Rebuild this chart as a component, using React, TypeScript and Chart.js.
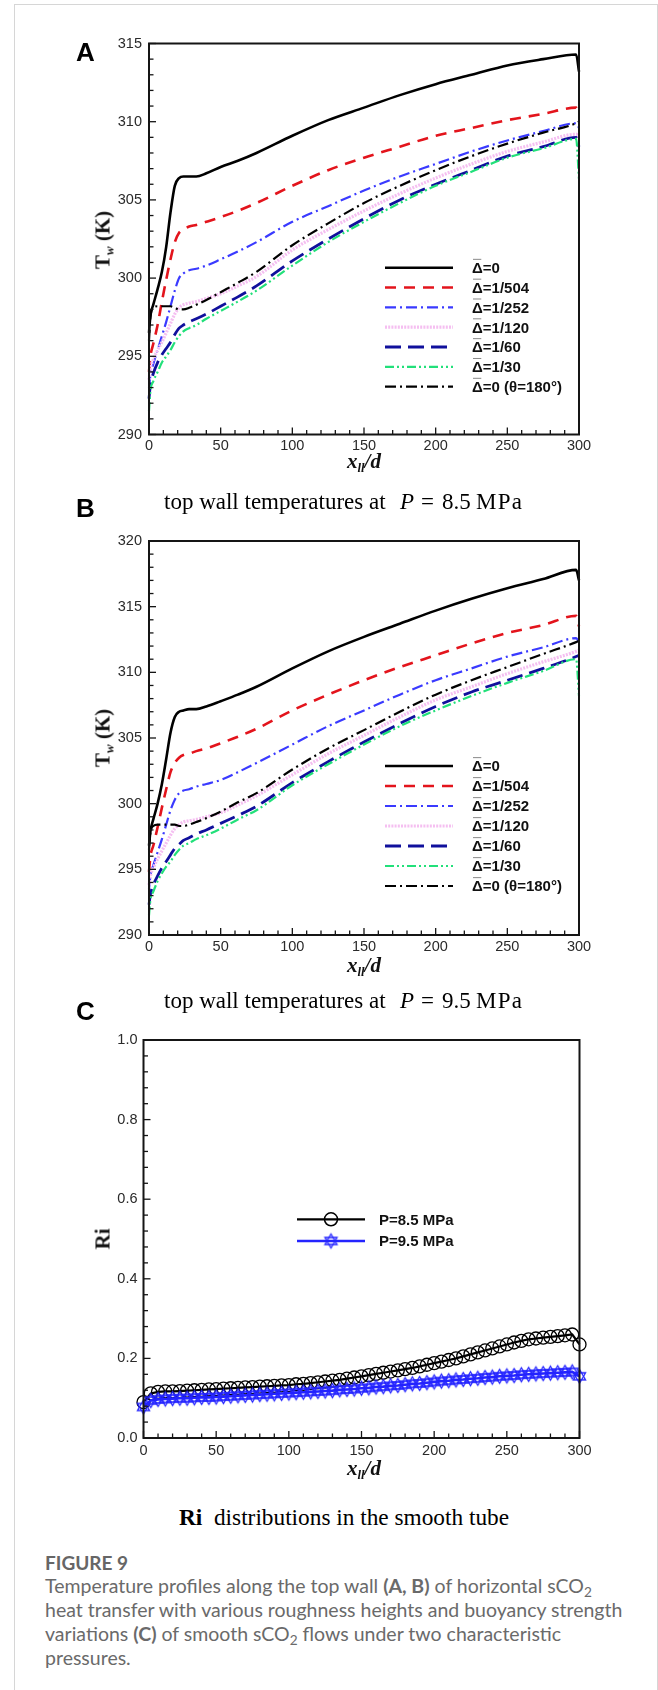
import React, { useEffect, useRef } from "react";
import { Chart, registerables } from "chart.js";
Chart.register(...registerables);

// ---------------- data ----------------
const X_POS = [0, 1, 3, 6, 9, 12, 15, 18, 21, 24, 28, 33, 40, 50, 62, 75, 100, 125, 150, 175, 200, 225, 250, 275, 298, 300];

// Panel A, P = 8.5 MPa
const A_D0 = [296.5, 297.6, 298.3, 299.3, 300.4, 302.0, 304.2, 305.9, 306.4, 306.5, 306.5, 306.5, 306.7, 307.1, 307.5, 308.0, 309.1, 310.1, 310.9, 311.7, 312.4, 313.0, 313.6, 314.0, 314.3, 313.2];
const A_504 = [294.0, 295.0, 295.8, 297.0, 298.5, 299.9, 301.2, 302.3, 302.9, 303.1, 303.3, 303.4, 303.6, 303.9, 304.3, 304.8, 305.9, 306.9, 307.7, 308.4, 309.1, 309.6, 310.1, 310.5, 310.9, 310.5];
const A_252 = [293.0, 293.8, 294.5, 295.4, 296.3, 297.2, 298.2, 299.2, 300.0, 300.3, 300.5, 300.6, 300.8, 301.2, 301.7, 302.3, 303.6, 304.6, 305.6, 306.5, 307.3, 308.1, 308.8, 309.4, 309.9, 309.6];
const A_120 = [293.5, 294.2, 294.8, 295.4, 295.9, 296.5, 297.1, 297.7, 298.1, 298.3, 298.4, 298.5, 298.7, 299.0, 299.5, 300.1, 301.8, 303.1, 304.3, 305.4, 306.4, 307.3, 308.1, 308.7, 309.2, 309.0];
const A_60 = [292.3, 293.2, 293.9, 294.6, 295.1, 295.5, 295.9, 296.4, 296.8, 297.0, 297.2, 297.4, 297.7, 298.2, 298.8, 299.5, 301.1, 302.5, 303.8, 305.0, 306.0, 306.9, 307.8, 308.4, 309.0, 308.4];
const A_30 = [291.5, 292.8, 293.4, 294.0, 294.6, 295.0, 295.4, 295.9, 296.3, 296.6, 296.8, 297.0, 297.4, 297.9, 298.5, 299.2, 300.8, 302.3, 303.6, 304.8, 305.9, 306.8, 307.7, 308.3, 308.9, 306.3];
const A_180 = [296.0, 297.5, 298.1, 298.2, 298.2, 298.2, 298.2, 298.1, 298.0, 298.0, 298.1, 298.3, 298.6, 299.1, 299.7, 300.4, 302.1, 303.5, 304.8, 305.9, 306.9, 307.8, 308.6, 309.3, 309.9, 310.0];

// Panel B, P = 9.5 MPa
const B_D0 = [296.8, 297.9, 298.8, 300.0, 301.5, 303.4, 305.4, 306.6, 307.0, 307.1, 307.2, 307.2, 307.4, 307.8, 308.3, 308.9, 310.3, 311.6, 312.7, 313.7, 314.7, 315.6, 316.4, 317.1, 317.8, 317.0];
const B_504 = [294.8, 296.0, 296.8, 298.2, 299.7, 301.1, 302.4, 303.1, 303.5, 303.7, 303.8, 304.0, 304.2, 304.6, 305.1, 305.7, 307.1, 308.3, 309.4, 310.4, 311.3, 312.2, 313.0, 313.6, 314.3, 313.5];
const B_252 = [293.5, 294.5, 295.3, 296.3, 297.3, 298.4, 299.5, 300.3, 300.8, 301.0, 301.1, 301.3, 301.5, 301.8, 302.4, 303.1, 304.5, 305.9, 307.1, 308.3, 309.4, 310.3, 311.2, 311.9, 312.6, 312.3];
const B_120 = [293.8, 294.5, 295.1, 295.8, 296.4, 297.0, 297.6, 298.1, 298.4, 298.6, 298.7, 298.8, 299.0, 299.3, 299.9, 300.6, 302.2, 303.8, 305.2, 306.6, 307.9, 308.9, 309.9, 310.8, 311.6, 311.7];
const B_60 = [292.3, 293.1, 293.8, 294.5, 295.1, 295.6, 296.1, 296.6, 296.9, 297.2, 297.4, 297.7, 298.0, 298.5, 299.1, 299.8, 301.6, 303.2, 304.7, 306.1, 307.4, 308.5, 309.4, 310.3, 311.2, 311.3];
const B_30 = [291.5, 292.7, 293.3, 294.1, 294.7, 295.2, 295.6, 296.1, 296.5, 296.8, 297.0, 297.3, 297.6, 298.1, 298.8, 299.5, 301.4, 303.0, 304.5, 305.9, 307.1, 308.2, 309.2, 310.1, 311.0, 308.2];
const B_180 = [296.5, 297.8, 298.3, 298.4, 298.4, 298.4, 298.4, 298.4, 298.3, 298.3, 298.4, 298.6, 298.9, 299.4, 300.1, 300.8, 302.6, 304.2, 305.6, 307.0, 308.3, 309.4, 310.4, 311.4, 312.3, 312.4];

const LEGEND_TAILS = ["=0", "=1/504", "=1/252", "=1/120", "=1/60", "=1/30", "=0 (\u03b8=180\u00b0)"];

// Panel C, Richardson number
const RI_X = [0, 5, 10, 15, 20, 25, 30, 35, 40, 45, 50, 55, 60, 65, 70, 75, 80, 85, 90, 95, 100, 105, 110, 115, 120, 125, 130, 135, 140, 145, 150, 155, 160, 165, 170, 175, 180, 185, 190, 195, 200, 205, 210, 215, 220, 225, 230, 235, 240, 245, 250, 255, 260, 265, 270, 275, 280, 285, 290, 295, 300];
const RI_85 = [0.090, 0.112, 0.116, 0.117, 0.117, 0.118, 0.119, 0.120, 0.121, 0.122, 0.123, 0.124, 0.125, 0.126, 0.127, 0.128, 0.129, 0.130, 0.131, 0.132, 0.133, 0.135, 0.136, 0.138, 0.140, 0.142, 0.144, 0.146, 0.149, 0.152, 0.155, 0.158, 0.161, 0.164, 0.167, 0.170, 0.173, 0.176, 0.180, 0.184, 0.188, 0.192, 0.196, 0.200, 0.205, 0.210, 0.215, 0.220, 0.225, 0.230, 0.235, 0.240, 0.244, 0.248, 0.250, 0.252, 0.254, 0.256, 0.258, 0.260, 0.235];
const RI_95 = [0.078, 0.094, 0.097, 0.098, 0.099, 0.100, 0.100, 0.101, 0.102, 0.102, 0.103, 0.104, 0.105, 0.106, 0.107, 0.108, 0.109, 0.110, 0.111, 0.112, 0.113, 0.114, 0.115, 0.116, 0.117, 0.118, 0.119, 0.121, 0.122, 0.123, 0.125, 0.126, 0.128, 0.129, 0.131, 0.132, 0.134, 0.136, 0.137, 0.139, 0.141, 0.143, 0.144, 0.146, 0.147, 0.149, 0.150, 0.152, 0.153, 0.155, 0.156, 0.157, 0.159, 0.160, 0.161, 0.162, 0.163, 0.164, 0.165, 0.166, 0.155];
const RI_LEGEND = ["P=8.5 MPa", "P=9.5 MPa"];

// ---------------- styles ----------------
const SANS = '"Liberation Sans", Arial, sans-serif';
const SERIF = '"Liberation Serif", "Times New Roman", serif';
const LATO = 'Lato, "Noto Sans", sans-serif';

const STY = [
  { color: "#000000", width: 2.6, dash: [] as number[] },
  { color: "#e3141c", width: 2.6, dash: [11, 8] },
  { color: "#3a3aff", width: 2.2, dash: [11, 4, 2, 4] },
  { color: "#f5bff1", width: 3.2, dash: [2, 1.2] },
  { color: "#10109c", width: 2.8, dash: [16, 7] },
  { color: "#22e07a", width: 2.2, dash: [9, 3, 2, 3, 2, 3] },
  { color: "#000000", width: 2.2, dash: [11, 4, 2, 4] },
];

function makeHexagram(color: string, r: number, lw: number) {
  const size = Math.ceil(2 * r + lw * 2 + 2);
  const c = document.createElement("canvas");
  c.width = size;
  c.height = size;
  const g = c.getContext("2d")!;
  g.strokeStyle = color;
  g.lineWidth = lw;
  const cx = size / 2, cy = size / 2;
  for (const rot of [-Math.PI / 2, Math.PI / 2]) {
    g.beginPath();
    for (let k = 0; k < 3; k++) {
      const a = rot + (k * 2 * Math.PI) / 3;
      const px = cx + r * Math.cos(a), py = cy + r * Math.sin(a);
      if (k === 0) g.moveTo(px, py);
      else g.lineTo(px, py);
    }
    g.closePath();
    g.stroke();
  }
  return c;
}

// plugin: frame, inward ticks, legends
const framePlugin = {
  id: "frame",
  afterDraw(chart: any, _args: any, o: any) {
    const { ctx, chartArea } = chart;
    const { left, right, top, bottom } = chartArea;
    const xs = chart.scales.x, ys = chart.scales.y;
    ctx.save();
    ctx.strokeStyle = "#151515";
    ctx.lineWidth = 1.3;
    ctx.setLineDash([]);
    const nx = Math.round((xs.max - xs.min) / o.xMinor);
    const rx = Math.round(o.xMajor / o.xMinor);
    for (let k = 0; k <= nx; k++) {
      const px = xs.getPixelForValue(xs.min + k * o.xMinor);
      const len = k % rx === 0 ? 7 : 4.5;
      ctx.beginPath();
      ctx.moveTo(px, bottom);
      ctx.lineTo(px, bottom - len);
      ctx.stroke();
    }
    const ny = Math.round((ys.max - ys.min) / o.yMinor);
    const ry = Math.round(o.yMajor / o.yMinor);
    for (let k = 0; k <= ny; k++) {
      const py = ys.getPixelForValue(ys.min + k * o.yMinor);
      const len = k % ry === 0 ? 7 : 4.5;
      ctx.beginPath();
      ctx.moveTo(left, py);
      ctx.lineTo(left + len, py);
      ctx.stroke();
    }
    ctx.lineWidth = 2;
    ctx.strokeRect(left, top, right - left, bottom - top);

    // legend
    const fs = o.legendFont;
    ctx.font = `bold ${fs}px ${SANS}`;
    ctx.textBaseline = "alphabetic";
    const cap = 0.716 * fs;
    chart.data.datasets.forEach((ds: any, i: number) => {
      const y = top + o.legendY + i * o.rowH;
      const x0 = left + o.lineX0, x1 = left + o.lineX1;
      ctx.strokeStyle = ds.borderColor;
      ctx.lineWidth = ds.borderWidth;
      ctx.setLineDash(ds.borderDash || []);
      ctx.beginPath();
      ctx.moveTo(x0, y);
      ctx.lineTo(x1, y);
      ctx.stroke();
      ctx.setLineDash([]);
      if (o.markers) {
        const mx = left + o.markerX;
        if (ds.pointStyle && typeof ds.pointStyle !== "string") {
          const img = ds.pointStyle;
          const s = img.width * 1.0;
          ctx.drawImage(img, mx - s / 2, y - s / 2, s, s);
        } else {
          ctx.strokeStyle = ds.pointBorderColor;
          ctx.lineWidth = 1.5;
          ctx.beginPath();
          ctx.arc(mx, y, 6.5, 0, Math.PI * 2);
          ctx.stroke();
        }
      }
      ctx.fillStyle = "#111";
      const tx = left + o.textX;
      const ty = y + cap / 2;
      if (o.delta) {
        ctx.fillText("\u0394", tx, ty);
        const dw = ctx.measureText("\u0394").width;
        ctx.fillText(ds.label, tx + dw, ty);
        ctx.strokeStyle = "#888";
        ctx.lineWidth = 1;
        ctx.beginPath();
        ctx.moveTo(tx + 1, ty - cap - 3);
        ctx.lineTo(tx + dw - 1.5, ty - cap - 3);
        ctx.stroke();
      } else {
        ctx.fillText(ds.label, tx, ty);
      }
    });
    ctx.restore();
  },
};

const tickFont = { family: SANS, size: 14.5 };

function baseOptions(g: any, y: any, pluginOpts: any) {
  return {
    animation: false,
    responsive: false,
    maintainAspectRatio: false,
    devicePixelRatio: 1,
    events: [],
    layout: { padding: { left: 0, right: g.padRight, top: g.padTop, bottom: 0 } },
    plugins: { legend: { display: false }, tooltip: { enabled: false }, frame: pluginOpts },
    scales: {
      x: {
        type: "linear", min: 0, max: 300,
        ticks: { stepSize: 50, font: tickFont, color: "#2a2a2a", padding: g.xPad, maxRotation: 0, autoSkip: false },
        grid: { display: false, drawTicks: false },
        border: { display: false },
        afterFit: (s: any) => { s.height = g.xAxisH; },
      },
      y: {
        type: "linear", min: y.min, max: y.max,
        ticks: { stepSize: y.step, font: tickFont, color: "#2a2a2a", padding: g.yPad, autoSkip: false, callback: y.cb },
        grid: { display: false, drawTicks: false },
        border: { display: false },
        afterFit: (s: any) => { s.width = g.yAxisW; },
      },
    },
  };
}

function makeTempChart(canvas: HTMLCanvasElement, series: number[][], yMin: number, yMax: number, g: any, legendY: number, rowH: number) {
  return new Chart(canvas, {
    type: "line",
    data: {
      datasets: series.map((s, i) => ({
        label: LEGEND_TAILS[i],
        data: X_POS.map((x, k) => ({ x, y: s[k] })),
        borderColor: STY[i].color, borderWidth: STY[i].width, borderDash: STY[i].dash,
        pointRadius: 0, fill: false, cubicInterpolationMode: "monotone", order: 10 - i, clip: false,
      })),
    },
    options: baseOptions(g, { min: yMin, max: yMax, step: 5 }, {
      xMinor: 10, xMajor: 50, yMinor: 1, yMajor: 5,
      legendY, rowH, lineX0: 236, lineX1: 304, textX: 323, legendFont: 15, delta: true, markers: false,
    }) as any,
    plugins: [framePlugin],
  } as any);
}

function makeRiChart(canvas: HTMLCanvasElement, g: any) {
  const hex = makeHexagram("#2424ff", 7, 1.3);
  return new Chart(canvas, {
    type: "line",
    data: {
      datasets: [
        {
          label: RI_LEGEND[0], data: RI_X.map((x, k) => ({ x, y: RI_85[k] })),
          borderColor: "#000", borderWidth: 2.2, pointStyle: "circle", pointRadius: 6.5, pointBorderWidth: 1.3,
          pointBorderColor: "#000", pointBackgroundColor: "rgba(0,0,0,0)", fill: false, order: 2, clip: false,
        },
        {
          label: RI_LEGEND[1], data: RI_X.map((x, k) => ({ x, y: RI_95[k] })),
          borderColor: "#2424ff", borderWidth: 2.6, pointStyle: hex, pointRadius: 7, pointBorderColor: "#2424ff",
          fill: false, order: 1, clip: false,
        },
      ],
    },
    options: baseOptions(g, { min: 0, max: 1, step: 0.2, cb: (v: number) => v.toFixed(1) }, {
      xMinor: 10, xMajor: 50, yMinor: 0.04, yMajor: 0.2,
      legendY: 179.3, rowH: 21.7, lineX0: 153.5, lineX1: 221.5, markerX: 187.5, textX: 235.5, legendFont: 15, delta: false, markers: true,
    }) as any,
    plugins: [framePlugin],
  } as any);
}

// ---------------- text helpers ----------------
function Txt(props: any) {
  const { x, base, size, family, asc, desc, align = "left", style, children } = props;
  const top = base - (size * (1 + asc - desc)) / 2;
  const tf = align === "center" ? "translateX(-50%)" : align === "right" ? "translateX(-100%)" : undefined;
  return (
    <div style={{ position: "absolute", left: x, top, fontSize: size, lineHeight: 1, fontFamily: family, whiteSpace: "nowrap", transform: tf, ...style }}>
      {children}
    </div>
  );
}

const serifM = { family: SERIF, asc: 0.891, desc: 0.216 };
const sansM = { family: SANS, asc: 0.905, desc: 0.212 };
const latoM = { family: LATO, asc: 0.987, desc: 0.213 };

function YTitle(props: any) {
  const { cx, cy, children } = props;
  return (
    <div style={{ position: "absolute", left: cx, top: cy, transform: "translate(-50%,-50%) rotate(-90deg)", fontFamily: SERIF, fontWeight: "bold", fontSize: 21, lineHeight: 1, whiteSpace: "nowrap", color: "#111" }}>
      {children}
    </div>
  );
}

function XTitle(props: any) {
  return (
    <Txt x={364} base={props.base} size={21} {...serifM} align="center" style={{ fontWeight: "bold", fontStyle: "italic", color: "#111" }}>
      x<span style={{ fontSize: "0.6em", position: "relative", top: "0.3em", fontWeight: "bold" }}>ll</span>/d
    </Txt>
  );
}

function Caption(props: any) {
  const b = props.base;
  const st = { color: "#000" };
  return (
    <>
      <Txt x={164} base={b} size={23} {...serifM} style={st}>top wall temperatures at</Txt>
      <Txt x={400} base={b} size={23} {...serifM} style={{ ...st, fontStyle: "italic" }}>P</Txt>
      <Txt x={421} base={b} size={23} {...serifM} style={st}>=</Txt>
      <Txt x={442} base={b} size={23} {...serifM} style={st}>{props.p}</Txt>
      <Txt x={476} base={b} size={23} {...serifM} style={{ ...st, letterSpacing: "1.3px" }}>MPa</Txt>
    </>
  );
}

const sub2 = <span style={{ fontSize: "0.7em", position: "relative", top: "0.3em" }}>2</span>;
const capStyle = { color: "#6a6a6a" };

export default function App() {
  const refA = useRef<HTMLCanvasElement>(null);
  const refB = useRef<HTMLCanvasElement>(null);
  const refC = useRef<HTMLCanvasElement>(null);

  useEffect(() => {
    const gA = { padTop: 43.5, padRight: 79, yAxisW: 149, xAxisH: 460 - 434.5, xPad: 3, yPad: 7 };
    const gB = { padTop: 51, padRight: 79, yAxisW: 149, xAxisH: 480 - 445, xPad: 3, yPad: 7 };
    const gC = { padTop: 50, padRight: 78.5, yAxisW: 143.5, xAxisH: 480 - 448, xPad: 4, yPad: 6 };
    const charts = [
      makeTempChart(refA.current!, [A_D0, A_504, A_252, A_120, A_60, A_30, A_180], 290, 315, gA, 224.2, 19.83),
      makeTempChart(refB.current!, [B_D0, B_504, B_252, B_120, B_60, B_30, B_180], 290, 320, gB, 225, 20),
      makeRiChart(refC.current!, gC),
    ];
    return () => charts.forEach((c) => c.destroy());
  }, []);

  return (
    <div style={{ position: "absolute", left: 0, top: 0, width: 658, height: 1690, background: "#fff", overflow: "hidden" }}>
      <div style={{ position: "absolute", left: 14, top: 4, width: 642, height: 1700, borderTop: "1px solid #d6d6d6", borderLeft: "1px solid #d6d6d6", borderRight: "1px solid #d6d6d6" }} />
      <canvas ref={refA} width={658} height={460} style={{ position: "absolute", left: 0, top: 0, width: 658, height: 460 }} />
      <canvas ref={refB} width={658} height={480} style={{ position: "absolute", left: 0, top: 490, width: 658, height: 480 }} />
      <canvas ref={refC} width={658} height={480} style={{ position: "absolute", left: 0, top: 990, width: 658, height: 480 }} />

      <Txt x={76} base={61} size={26} {...sansM} style={{ fontWeight: "bold" }}>A</Txt>
      <Txt x={76} base={517} size={26} {...sansM} style={{ fontWeight: "bold" }}>B</Txt>
      <Txt x={76} base={1020} size={26} {...sansM} style={{ fontWeight: "bold" }}>C</Txt>

      <YTitle cx={103} cy={240}>T<span style={{ fontSize: "0.62em", fontStyle: "italic", position: "relative", top: "0.3em" }}>w</span> (K)</YTitle>
      <YTitle cx={103} cy={738}>T<span style={{ fontSize: "0.62em", fontStyle: "italic", position: "relative", top: "0.3em" }}>w</span> (K)</YTitle>
      <YTitle cx={103} cy={1239}>Ri</YTitle>

      <XTitle base={469} />
      <XTitle base={973} />
      <XTitle base={1476} />

      <Caption base={509} p="8.5" />
      <Caption base={1008} p="9.5" />

      <Txt x={179} base={1526} size={23.3} {...serifM} style={{ color: "#000" }}>
        <b>Ri</b>&nbsp; distributions in the smooth tube
      </Txt>

      <Txt x={45} base={1570} size={19} {...latoM} style={{ color: "#666", fontWeight: "bold" }}>FIGURE 9</Txt>
      <Txt x={45} base={1593} size={19.5} {...latoM} style={capStyle}>
        Temperature profiles along the top wall <b>(A, B)</b> of horizontal sCO{sub2}
      </Txt>
      <Txt x={45} base={1617} size={19.5} {...latoM} style={capStyle}>
        heat transfer with various roughness heights and buoyancy strength
      </Txt>
      <Txt x={45} base={1641} size={19.5} {...latoM} style={capStyle}>
        variations <b>(C)</b> of smooth sCO{sub2} flows under two characteristic
      </Txt>
      <Txt x={45} base={1665} size={19.5} {...latoM} style={capStyle}>
        pressures.
      </Txt>
    </div>
  );
}
